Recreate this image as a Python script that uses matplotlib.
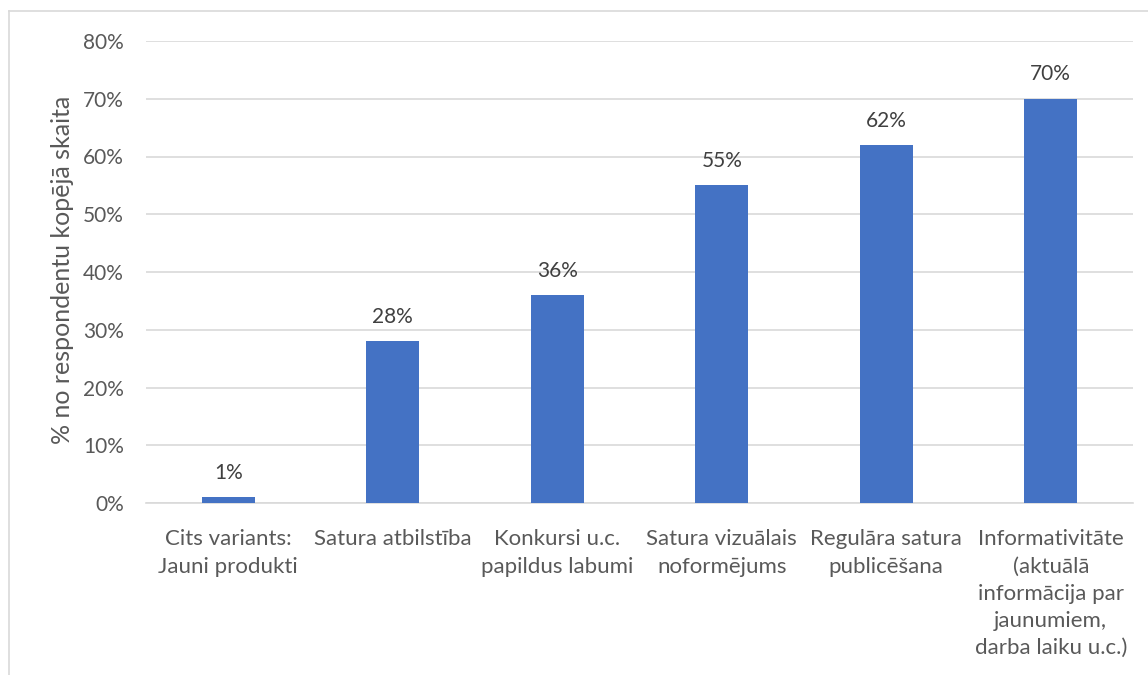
import matplotlib.pyplot as plt
from matplotlib.lines import Line2D
from matplotlib.ticker import MultipleLocator, FuncFormatter

categories = [
    "Cits variants:\nJauni produkti",
    "Satura atbilstība",
    "Konkursi u.c.\npapildus labumi",
    "Satura vizuālais\nnoformējums",
    "Regulāra satura\npublicēšana",
    "Informativitāte\n(aktuālā\ninformācija par\njaunumiem,\ndarba laiku u.c.)",
]
values = [1, 28, 36, 55, 62, 70]
y_label = "% no respondentu kopējā skaita"

plt.rcParams['font.family'] = ['Lato', 'DejaVu Sans']
text_col = '#595959'
bar_col = '#4472C4'

fig = plt.figure(figsize=(11.48, 6.75), dpi=100)
ax = fig.add_axes([146 / 1148, 1 - 503 / 675, (1133 - 146) / 1148, (503 - 41) / 675])

x = range(len(categories))
bars = ax.bar(x, values, width=0.32, color=bar_col, zorder=3)
for b, v in zip(bars, values):
    ax.text(b.get_x() + b.get_width() / 2, v + 2.5, f"{v}%", ha='center', va='bottom',
            fontsize=15, color='#404040')

ax.set_xlim(-0.5, len(categories) - 0.5)
ax.set_ylim(0, 80)
ax.yaxis.set_major_locator(MultipleLocator(10))
ax.yaxis.set_major_formatter(FuncFormatter(lambda v, p: f"{v:.0f}%"))
ax.grid(axis='y', color='#D9D9D9', linewidth=1.2, zorder=0)
ax.set_xticks(list(x))
ax.set_xticklabels(categories, linespacing=1.45)
ax.tick_params(axis='both', length=0, colors=text_col)
ax.tick_params(axis='y', pad=16, labelsize=15)
ax.tick_params(axis='x', pad=19, labelsize=16)
for s in ['top', 'right', 'left']:
    ax.spines[s].set_visible(False)
ax.spines['bottom'].set_color('#D9D9D9')
ax.spines['bottom'].set_linewidth(1.2)
ax.set_ylabel(y_label, fontsize=18, color=text_col)
ax.yaxis.set_label_coords(-72 / 987, 0.5 + (503 - 41 - 2 * (270 - 41)) / 2 / 462)

# outer chart frame
fig.add_artist(Line2D([9 / 1148, 9 / 1148], [0, 1 - 11 / 675], transform=fig.transFigure,
                      color='#D9D9D9', linewidth=1.2))
fig.add_artist(Line2D([9 / 1148, 1], [1 - 11 / 675, 1 - 11 / 675], transform=fig.transFigure,
                      color='#D9D9D9', linewidth=1.2))

fig.savefig('out.png', dpi=100)
